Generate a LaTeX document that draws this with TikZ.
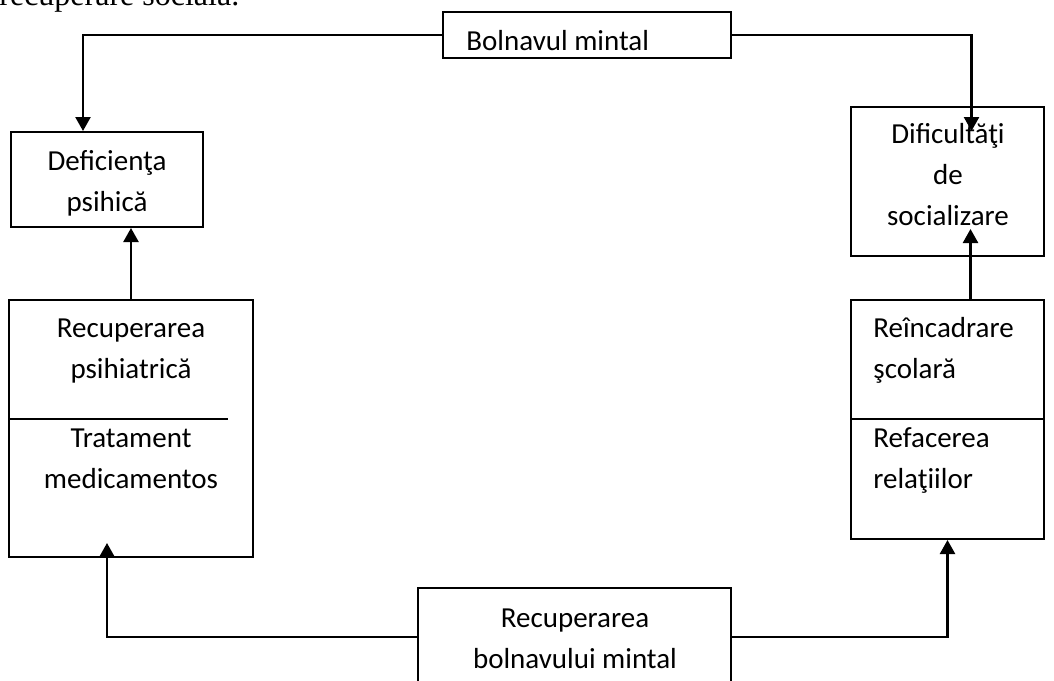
\documentclass[tikz,border=0pt]{standalone}
\usepackage{fontspec}
\setmainfont{Carlito}
\newfontfamily\serifold{Liberation Serif}
\usetikzlibrary{arrows.meta}
\newcommand{\rows}[2][c]{\begin{tabular}[t]{@{}#1@{}}#2\end{tabular}}

\begin{document}
\begin{tikzpicture}[x=0.5pt,y=-0.5pt,
	box node/.style = {draw, line width=1pt, inner sep=0pt},
	text node/.style = {inner sep=0pt, anchor=base, font=\fontsize{14.5}{20.5}\selectfont},
	link/.style = {line width=1.2pt, -{Triangle[width=7.5pt,length=7pt]}}]
	
	\useasboundingbox (0,0) rectangle (1054,680);
	\node[inner sep=0pt, anchor=base west, font=\serifold\fontsize{16}{19}\selectfont] (prevline) at (-1,5) {recuperare socială.};
	
	% boxes
	\node[box node, minimum width=144pt, minimum height=23pt] (bolnav) at (587,35) {};
	\node[box node, minimum width=96pt, minimum height=47.5pt] (deficienta) at (107,179.5) {};
	\node[box node, minimum width=96.5pt, minimum height=74.5pt] (dificult) at (947.5,181.5) {};
	\node[box node, minimum width=122pt, minimum height=128.5pt] (recpsih) at (131,428.5) {};
	\node[box node, minimum width=96.5pt, minimum height=119.5pt] (reincadr) at (947.5,419.5) {};
	\node[box node, minimum width=156.5pt, minimum height=49pt] (recbolnav) at (574.5,637) {};
	\draw[line width=1pt] (9,419) -- (228,419);
	\draw[line width=1pt] (851,419) -- (1044,419);
	
	% texts
	\node[text node, anchor=base west] (t bolnav) at (466,50) {Bolnavul mintal};
	\node[text node] (t deficienta) at (107,170) {\rows{Deficienţa\\psihică}};
	\node[text node] (t dificult) at (948,143) {\rows{Dificultăţi\\de\\socializare}};
	\node[text node] (t recpsih) at (131,337) {\rows{Recuperarea\\psihiatrică}};
	\node[text node] (t tratament) at (131,447) {\rows{Tratament\\medicamentos}};
	\node[text node, anchor=base west] (t reincadr) at (873,337) {\rows[l]{Reîncadrare\\şcolară}};
	\node[text node, anchor=base west] (t refacere) at (873,447) {\rows[l]{Refacerea\\relaţiilor}};
	\node[text node] (t recbolnav) at (575,627) {\rows{Recuperarea\\bolnavului mintal}};
	
	% links
	\draw[link] (bolnav.west) -| ([xshift=-12pt]deficienta.north);
	\draw[link] (bolnav.east) -| ([xshift=12pt,yshift=-12.5pt]dificult.north);
	\draw[link] (recpsih.north) -- (recpsih.north |- deficienta.south);
	\draw[link] ([xshift=11.5pt]reincadr.north) -- ([xshift=11.5pt,yshift=14pt]dificult.south);
	\draw[link] (recbolnav.west) -| ([xshift=-12pt,yshift=7.5pt]recpsih.south);
	\draw[link] (recbolnav.east) -| (reincadr.south);
	
\end{tikzpicture}
\end{document}
